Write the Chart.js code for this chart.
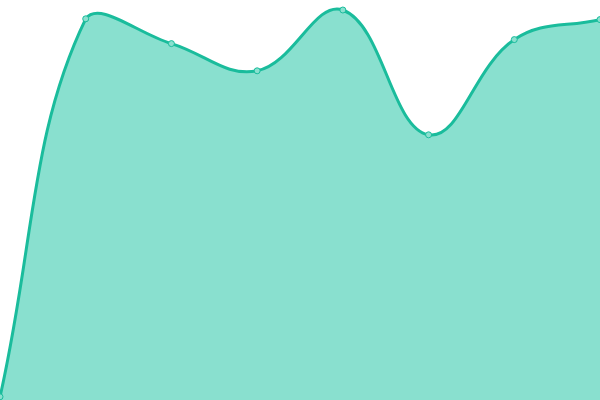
<!DOCTYPE html>
<html>
<head>
<meta charset="utf-8">
<script src="https://cdn.jsdelivr.net/npm/chart.js@4"></script>
<style>
  html, body { margin: 0; padding: 0; background: #fff; }
  #wrap { width: 600px; height: 400px; }
</style>
</head>
<body>
<div id="wrap"><canvas id="chart"></canvas></div>
<script>
var labels = ["1", "2", "3", "4", "5", "6", "7", "8"];
var values = [0.8, 95.3, 89.1, 82.3, 97.5, 66.3, 90.1, 95.1];

var ctx = document.getElementById("chart").getContext('2d');
var myChart = new Chart(ctx, {
    type: 'line',
    data: {
        labels: labels,
        datasets: [{
            data: values,
            borderColor: "#1abc9c",
            backgroundColor: "#89e0cf",
            borderWidth: 3,
            fill: true,
            tension: 0.4,
            pointRadius: 3,
            pointBorderWidth: 1,
            pointBackgroundColor: "#8ae0cf",
            pointBorderColor: "#1abc9c"
        }]
    },
    options: {
        responsive: true,
        maintainAspectRatio: false,
        animation: false,
        layout: { padding: 0, autoPadding: false },
        plugins: {
            legend: { display: false },
            tooltip: { enabled: false }
        },
        scales: {
            x: { display: false, offset: false },
            y: { display: false, min: 0, max: 100 }
        }
    }
});
</script>
</body>
</html>
